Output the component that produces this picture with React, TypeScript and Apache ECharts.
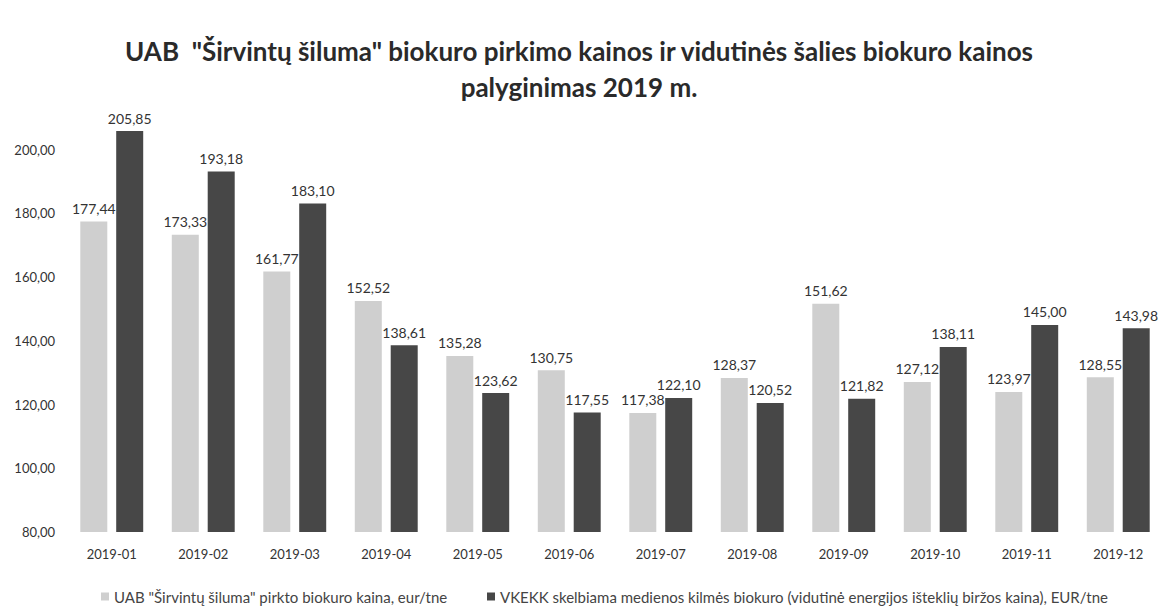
import React, { useEffect, useRef } from "react";
import * as echarts from "echarts";

const categories = [
  "2019-01", "2019-02", "2019-03", "2019-04", "2019-05", "2019-06",
  "2019-07", "2019-08", "2019-09", "2019-10", "2019-11", "2019-12",
];
const sirvintuPrices = [177.44, 173.33, 161.77, 152.52, 135.28, 130.75, 117.38, 128.37, 151.62, 127.12, 123.97, 128.55];
const vkekkPrices = [205.85, 193.18, 183.1, 138.61, 123.62, 117.55, 122.1, 120.52, 121.82, 138.11, 145.0, 143.98];
const seriesNames = [
  'UAB "Širvintų šiluma" pirkto biokuro kaina, eur/tne',
  "VKEKK skelbiama medienos kilmės biokuro (vidutinė energijos išteklių biržos kaina), EUR/tne",
];
const titleText =
  'UAB  "Širvintų šiluma" biokuro pirkimo kainos ir vidutinės šalies biokuro kainos\npalyginimas 2019 m.';

const fmt = (v: number) => v.toFixed(2).replace(".", ",");
const FONT = "Lato, 'Open Sans', sans-serif";

export default function App() {
  const ref = useRef<HTMLDivElement>(null);
  useEffect(() => {
    if (!ref.current) return;
    const chart = echarts.init(ref.current, undefined, { renderer: "svg" });
    chart.setOption({
      animation: false,
      backgroundColor: "#ffffff",
      textStyle: { fontFamily: FONT },
      title: {
        text: titleText,
        left: 574,
        top: 28,
        textAlign: "center",
        textStyle: {
          fontFamily: FONT,
          fontSize: 26,
          fontWeight: "bold",
          color: "#2a2a2a",
          lineHeight: 36,
        },
      },
      legend: [
        {
          data: [seriesNames[0]],
          left: 96,
          top: 584,
          itemWidth: 8,
          itemHeight: 8,
          itemGap: 6,
          icon: "rect",
          textStyle: { fontFamily: FONT, fontSize: 15, color: "#444" },
        },
        {
          data: [seriesNames[1]],
          left: 482,
          top: 584,
          itemWidth: 8,
          itemHeight: 8,
          icon: "rect",
          textStyle: { fontFamily: FONT, fontSize: 15, color: "#444" },
        },
      ],
      grid: { left: 66, right: 0, top: 86, bottom: 78 },
      xAxis: {
        type: "category",
        data: categories,
        axisLine: { show: false },
        axisTick: { show: false },
        axisLabel: { fontFamily: FONT, fontSize: 13, color: "#333", margin: 15 },
      },
      yAxis: {
        type: "value",
        min: 80,
        max: 220,
        interval: 20,
        splitLine: { show: false },
        axisLine: { show: false },
        axisTick: { show: false },
        axisLabel: {
          fontFamily: FONT,
          fontSize: 13,
          color: "#333",
          margin: 11,
          formatter: (v: number) => (v > 200 ? "" : fmt(v)),
        },
      },
      series: [
        {
          name: seriesNames[0],
          type: "bar",
          data: sirvintuPrices,
          barWidth: 27,
          barGap: "33%",
          itemStyle: { color: "#cfcfcf" },
          label: {
            show: true,
            position: "top",
            distance: 6,
            fontFamily: FONT,
            fontSize: 14,
            color: "#333",
            formatter: (p: any) => fmt(p.value),
          },
        },
        {
          name: seriesNames[1],
          type: "bar",
          data: vkekkPrices,
          barWidth: 27,
          itemStyle: { color: "#474747" },
          label: {
            show: true,
            position: "top",
            distance: 6,
            fontFamily: FONT,
            fontSize: 14,
            color: "#333",
            formatter: (p: any) => fmt(p.value),
          },
        },
      ],
    });
    return () => chart.dispose();
  }, []);
  return (
    <div
      ref={ref}
      style={{ position: "fixed", left: 0, top: 0, width: 1164, height: 610, background: "#fff" }}
    />
  );
}
